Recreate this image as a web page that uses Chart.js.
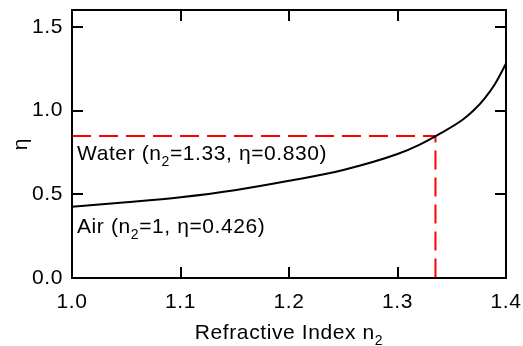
<!DOCTYPE html>
<html>
<head>
<meta charset="utf-8">
<script src="https://cdn.jsdelivr.net/npm/chart.js@4"></script>
<style>
  html, body { margin: 0; padding: 0; background: #fff; }
  #wrap { width: 523px; height: 346px; }
</style>
</head>
<body>
<div id="wrap"><canvas id="eta_graph"></canvas></div>
<script>
// refractive index n2 and efficiency eta
const n2 = [1.00, 1.05, 1.10, 1.15, 1.20, 1.25, 1.30, 1.32, 1.34, 1.36, 1.37, 1.38, 1.39, 1.40];
const eta = [0.426, 0.452, 0.482, 0.524, 0.58, 0.645, 0.74, 0.795, 0.865, 0.945, 1.0, 1.07, 1.16, 1.28];

// red dashed guide to the water point
const guideX = [1.0, 1.335, 1.335];
const guideY = [0.848, 0.848, 0.0];

const xTicks = [1.0, 1.1, 1.2, 1.3, 1.4];
const yTicks = [0.0, 0.5, 1.0, 1.5];

const xTitle = [{ t: 'Refractive Index n' }, { t: '2', sub: true }];
const yTitle = 'η';

const notes = [
  { x: 1.0, y: 0.702, parts: [{ t: 'Water (n' }, { t: '2', sub: true }, { t: '=1.33, η=0.830)' }] },
  { x: 1.0, y: 0.268, parts: [{ t: 'Air (n' }, { t: '2', sub: true }, { t: '=1, η=0.426)' }] }
];

const FONT = '"Liberation Sans", Arial, Helvetica, sans-serif';
const SPACING = '0.6px';

function drawRuns(ctx, parts, x, y, size, align) {
  const subSize = Math.round(size * 0.68);
  let w = 0;
  parts.forEach(p => {
    ctx.font = (p.sub ? subSize : size) + 'px ' + FONT;
    w += ctx.measureText(p.t).width;
  });
  let cx = align === 'center' ? x - w / 2 : x;
  parts.forEach(p => {
    ctx.font = (p.sub ? subSize : size) + 'px ' + FONT;
    ctx.fillText(p.t, cx, p.sub ? y + 6 : y);
    cx += ctx.measureText(p.t).width;
  });
}

const framePlugin = {
  id: 'frame',
  beforeLayout(chart) { chart.ctx.letterSpacing = SPACING; },
  beforeDraw(chart) { chart.ctx.letterSpacing = SPACING; },
  afterDatasetsDraw(chart) {
    const ctx = chart.ctx;
    const a = chart.chartArea;
    const xs = chart.scales.x, ys = chart.scales.y;
    ctx.save();
    ctx.strokeStyle = '#000';
    ctx.lineWidth = 2;
    ctx.strokeRect(a.left, a.top, a.right - a.left, a.bottom - a.top);
    // inward ticks on all four sides
    const len = 11;
    ctx.beginPath();
    xTicks.forEach(v => {
      const px = Math.round(xs.getPixelForValue(v));
      ctx.moveTo(px, a.bottom); ctx.lineTo(px, a.bottom - len);
      ctx.moveTo(px, a.top); ctx.lineTo(px, a.top + len);
    });
    yTicks.forEach(v => {
      const py = Math.round(ys.getPixelForValue(v));
      ctx.moveTo(a.left, py); ctx.lineTo(a.left + len, py);
      ctx.moveTo(a.right, py); ctx.lineTo(a.right - len, py);
    });
    ctx.stroke();

    ctx.fillStyle = '#000';
    ctx.textBaseline = 'alphabetic';
    ctx.textAlign = 'left';
    ctx.letterSpacing = SPACING;
    notes.forEach(n => {
      drawRuns(ctx, n.parts, xs.getPixelForValue(n.x) + 5, ys.getPixelForValue(n.y), 21, 'left');
    });
    drawRuns(ctx, xTitle, (a.left + a.right) / 2, 339, 21, 'center');
    ctx.restore();
  }
};

const ctx = document.getElementById('eta_graph').getContext('2d');

const chart = new Chart(ctx, {
  type: 'scatter',
  data: {
    datasets: [{
      label: 'eta',
      data: n2.map((v, i) => ({ x: v, y: eta[i] })),
      showLine: true,
      borderColor: '#000',
      borderWidth: 2,
      pointRadius: 0,
      cubicInterpolationMode: 'monotone'
    }, {
      label: 'water',
      data: guideX.map((v, i) => ({ x: v, y: guideY[i] })),
      showLine: true,
      borderColor: '#ff0000',
      borderWidth: 2,
      borderDash: [19, 8],
      pointRadius: 0,
      tension: 0
    }]
  },
  options: {
    responsive: true,
    maintainAspectRatio: false,
    animation: false,
    events: [],
    layout: { padding: { top: 10, right: 17, left: 0, bottom: 0 } },
    plugins: { legend: { display: false }, tooltip: { enabled: false } },
    scales: {
      x: {
        type: 'linear',
        min: 1.0,
        max: 1.4,
        afterBuildTicks: s => { s.ticks = xTicks.map(v => ({ value: v })); },
        afterFit: s => { s.height = 68; s.paddingLeft = 0; s.paddingRight = 0; },
        grid: { display: false, drawTicks: false },
        border: { display: false },
        ticks: {
          padding: 12,
          color: '#000',
          maxRotation: 0,
          font: { family: FONT, size: 21 },
          callback: v => Number(v).toFixed(1)
        }
      },
      y: {
        type: 'linear',
        min: 0,
        max: 1.6,
        afterBuildTicks: s => { s.ticks = yTicks.map(v => ({ value: v })); },
        afterFit: s => { s.width = 72; s.paddingTop = 0; s.paddingBottom = 0; },
        grid: { display: false, drawTicks: false },
        border: { display: false },
        title: {
          display: true,
          text: yTitle,
          color: '#000',
          font: { family: FONT, size: 21 },
          padding: { top: 9, bottom: 0 }
        },
        ticks: {
          padding: 9,
          color: '#000',
          font: { family: FONT, size: 21 },
          callback: v => Number(v).toFixed(1)
        }
      }
    }
  },
  plugins: [framePlugin]
});
</script>
</body>
</html>
